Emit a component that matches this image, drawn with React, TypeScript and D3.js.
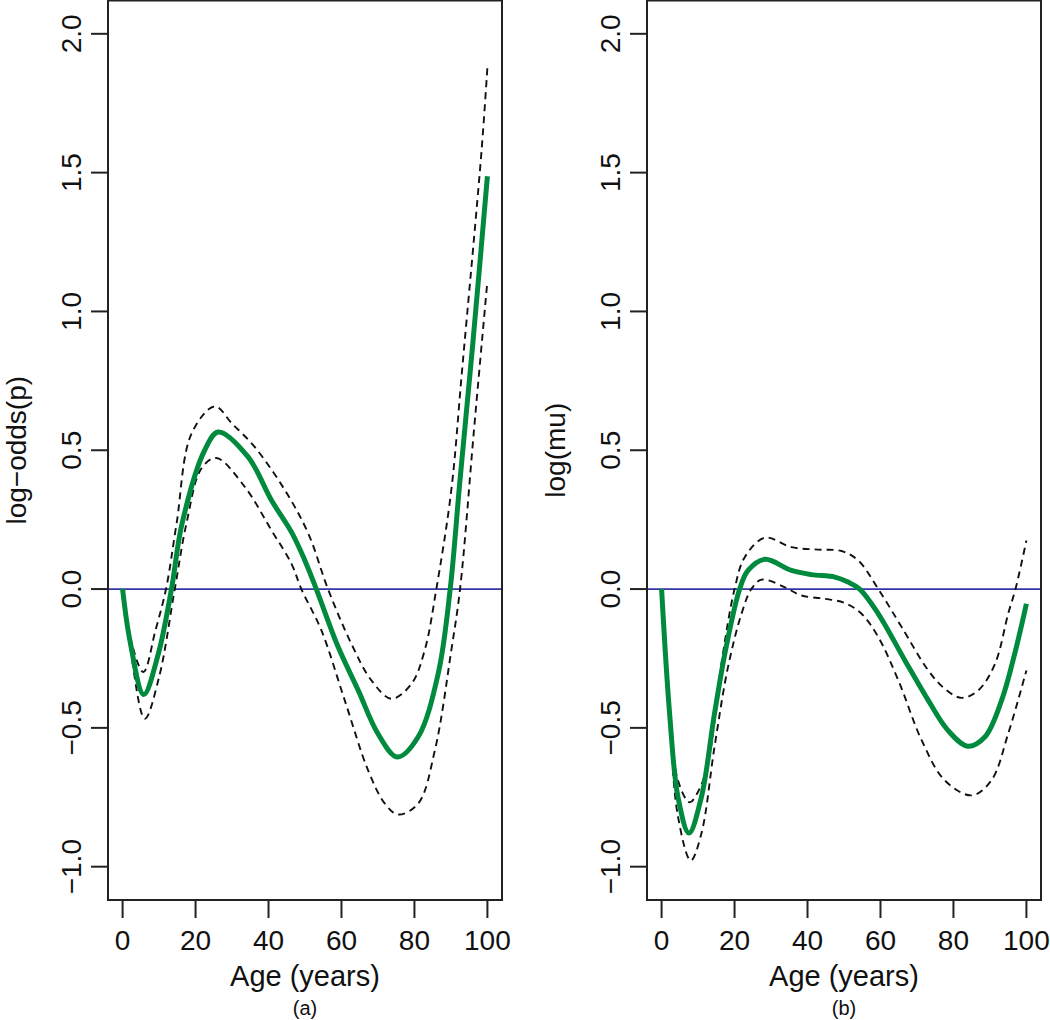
import React from "react";
import * as d3 from "d3";

// ---- Panel (a): log-odds(p) ----
const agesFitA = [0, 2, 5.8, 9.8, 13.4, 16.3, 22.5, 26.2, 34.4, 40.8, 46.3, 49.9, 53.1, 59.1, 64.6, 70, 75.3, 81, 86.5, 89.8, 92.4, 95.9, 100];
const fitA = [0, -0.185, -0.38, -0.233, 0, 0.236, 0.5, 0.566, 0.476, 0.32, 0.205, 0.105, 0, -0.209, -0.365, -0.521, -0.605, -0.533, -0.305, 0, 0.38, 0.87, 1.487];

const agesUpA = [0, 2, 5.7, 9, 11.9, 14.8, 18.9, 25.3, 30, 36.2, 44.5, 50.9, 56.3, 62.7, 68.2, 73.7, 79.2, 82.8, 86, 90.1, 93, 98.4, 100];
const upA = [0, -0.17, -0.299, -0.149, 0, 0.236, 0.56, 0.658, 0.596, 0.512, 0.356, 0.2, 0, -0.197, -0.329, -0.395, -0.341, -0.221, 0, 0.356, 0.78, 1.58, 1.88];

const agesLoA = [0, 2, 6.1, 10, 14.3, 17.5, 21.6, 25.7, 33.5, 40.8, 46.3, 49, 54.5, 60.9, 67.3, 71.9, 75.5, 81, 85.6, 90.1, 92.5, 96.3, 100];
const loA = [0, -0.2, -0.467, -0.317, 0, 0.236, 0.434, 0.472, 0.368, 0.212, 0.091, 0, -0.149, -0.401, -0.653, -0.773, -0.812, -0.773, -0.581, -0.221, 0, 0.57, 1.11];

// ---- Panel (b): log(mu) ----
const agesFitB = [0, 2.2, 4.5, 7.5, 10.9, 14.5, 17.7, 21.4, 23.7, 28.3, 35.6, 41.1, 47.5, 51.1, 54.3, 59.4, 66.7, 73.1, 78.5, 83.9, 88.6, 93.2, 96.8, 100];
const fitB = [0, -0.449, -0.75, -0.879, -0.75, -0.449, -0.209, 0, 0.067, 0.107, 0.067, 0.052, 0.043, 0.025, 0, -0.089, -0.257, -0.401, -0.509, -0.566, -0.533, -0.401, -0.233, -0.053];

const agesUpB = [0, 2.2, 4.5, 7.7, 10, 12.7, 16.4, 20, 22.8, 28.3, 35.6, 42.9, 49.3, 53.9, 59.4, 65.8, 73.1, 77.6, 82.2, 86.8, 91.4, 95, 97, 100];
const upB = [0, -0.43, -0.69, -0.768, -0.73, -0.629, -0.269, 0, 0.115, 0.185, 0.151, 0.142, 0.137, 0.103, 0, -0.137, -0.293, -0.359, -0.392, -0.365, -0.269, -0.089, 0, 0.175];

const agesLoB = [0, 2.2, 4.5, 8, 10.9, 14.5, 18.2, 21.9, 24.6, 27.4, 33.7, 38.3, 44.7, 50.2, 54.8, 59.4, 64.9, 71.3, 77.6, 85, 90.4, 95, 100];
const loB = [0, -0.465, -0.82, -0.978, -0.881, -0.569, -0.281, -0.089, 0, 0.034, 0.007, -0.023, -0.035, -0.05, -0.089, -0.173, -0.329, -0.545, -0.689, -0.743, -0.689, -0.521, -0.293];

const xTicks = [0, 20, 40, 60, 80, 100];
const yTicks = [-1.0, -0.5, 0.0, 0.5, 1.0, 1.5, 2.0];
const yTickLabels = ["\u22121.0", "\u22120.5", "0.0", "0.5", "1.0", "1.5", "2.0"];
const xTitle = "Age (years)";
const yTitleA = "log\u2212odds(p)";
const yTitleB = "log(mu)";
const captionA = "(a)";
const captionB = "(b)";

const FONT = "'Liberation Sans', Arial, Helvetica, sans-serif";

type PanelProps = {
  left: number;
  right: number;
  fitAges: number[];
  fit: number[];
  upAges: number[];
  up: number[];
  loAges: number[];
  lo: number[];
  yTitle: string;
  caption: string;
};

function Panel(p: PanelProps) {
  const top = 0.5;
  const bottom = 900;
  const x = d3.scaleLinear().domain([-4, 104]).range([p.left, p.right]);
  const y = d3.scaleLinear().domain([-1.12, 2.12]).range([bottom, top]);
  const line = d3
    .line<[number, number]>()
    .x((d) => x(d[0]))
    .y((d) => y(d[1]))
    .curve(d3.curveCatmullRom.alpha(0.5));
  const zip = (a: number[], b: number[]) => a.map((v, i) => [v, b[i]] as [number, number]);
  const cx = (p.left + p.right) / 2;
  const cy = (top + bottom) / 2;
  return (
    <g>
      <line x1={p.left} x2={p.right} y1={y(0)} y2={y(0)} stroke="#3535a8" strokeWidth={1.8} />
      <path d={line(zip(p.upAges, p.up)) || ""} fill="none" stroke="#111" strokeWidth={1.9} strokeDasharray="7,5" />
      <path d={line(zip(p.loAges, p.lo)) || ""} fill="none" stroke="#111" strokeWidth={1.9} strokeDasharray="7,5" />
      <path d={line(zip(p.fitAges, p.fit)) || ""} fill="none" stroke="#008a3e" strokeWidth={5} strokeLinejoin="round" />
      <rect x={p.left} y={top} width={p.right - p.left} height={bottom - top} fill="none" stroke="#222" strokeWidth={2} />
      {xTicks.map((t) => (
        <g key={"x" + t}>
          <line x1={x(t)} x2={x(t)} y1={bottom} y2={bottom + 18} stroke="#222" strokeWidth={2} />
          <text x={x(t)} y={949.5} textAnchor="middle" fontSize={28} fontFamily={FONT} fill="#111">
            {t}
          </text>
        </g>
      ))}
      {yTicks.map((t, i) => (
        <g key={"y" + t}>
          <line x1={p.left - 17} x2={p.left} y1={y(t)} y2={y(t)} stroke="#222" strokeWidth={2} />
          <text
            transform={`translate(${p.left - 27},${y(t)}) rotate(-90)`}
            textAnchor="middle"
            fontSize={28}
            fontFamily={FONT}
            fill="#111"
          >
            {yTickLabels[i]}
          </text>
        </g>
      ))}
      <text x={cx} y={985.5} textAnchor="middle" fontSize={29} fontFamily={FONT} fill="#111">
        {xTitle}
      </text>
      <text x={cx} y={1015} textAnchor="middle" fontSize={20} fontFamily={FONT} fill="#111">
        {p.caption}
      </text>
      <text
        transform={`translate(${p.left - 82},${cy}) rotate(-90)`}
        textAnchor="middle"
        fontSize={28}
        fontFamily={FONT}
        fill="#111"
      >
        {p.yTitle}
      </text>
    </g>
  );
}

export default function App() {
  return (
    <svg
      width={1050}
      height={1020}
      style={{ position: "absolute", left: 0, top: 0, background: "#fff" }}
    >
      <rect x={0} y={0} width={1050} height={1020} fill="#fff" />
      <Panel
        left={108}
        right={502}
        fitAges={agesFitA}
        fit={fitA}
        upAges={agesUpA}
        up={upA}
        loAges={agesLoA}
        lo={loA}
        yTitle={yTitleA}
        caption={captionA}
      />
      <Panel
        left={647}
        right={1041}
        fitAges={agesFitB}
        fit={fitB}
        upAges={agesUpB}
        up={upB}
        loAges={agesLoB}
        lo={loB}
        yTitle={yTitleB}
        caption={captionB}
      />
    </svg>
  );
}
